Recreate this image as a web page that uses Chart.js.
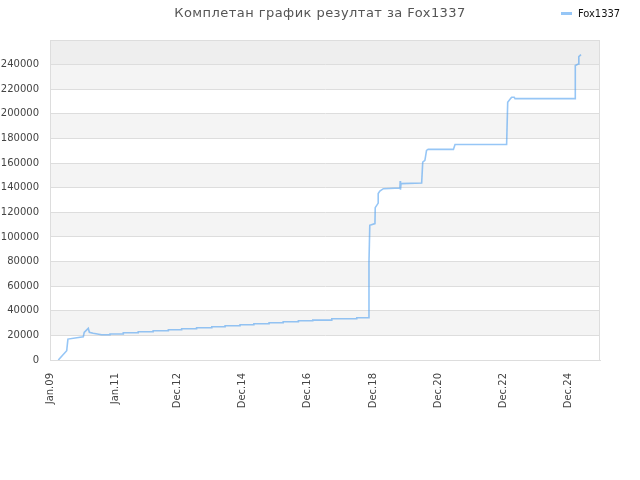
<!DOCTYPE html>
<html>
<head>
<meta charset="utf-8">
<script src="https://cdn.jsdelivr.net/npm/chart.js@4.4.1/dist/chart.umd.min.js"></script>
<style>
  html, body { margin: 0; padding: 0; background: #fff; }
  #wrap { width: 640px; height: 480px; }
</style>
</head>
<body>
<div id="wrap"><canvas id="scoreChart" width="640" height="480"></canvas></div>
<script>
// months counted from Jan 2009 (0 = Jan.09)
const months = [3.06, 6.15, 6.6, 12.27, 12.6, 14.1, 14.5, 15.9, 19.0, 22.1, 22.1, 27.0, 27.0,
  32.5, 32.5, 38.0, 38.0, 43.6, 43.6, 48.5, 48.5, 54.0, 54.0, 59.6, 59.6, 64.5, 64.5,
  70.0, 70.0, 75.1, 75.1, 80.7, 80.7, 85.9, 85.9, 91.5, 91.5, 96.8, 96.8, 103.8, 103.8,
  113.0, 113.0, 117.2, 117.5, 117.8, 119.7, 119.8, 120.9, 120.9, 121.5, 122.8, 128.9,
  129.0, 129.1, 129.3, 136.9, 137.3, 138.1, 138.7, 139.3, 148.6, 149.2, 168.2, 168.6,
  169.8, 170.1, 171.0, 171.3, 193.4, 193.5, 194.6, 194.8, 195.6];
const scores = [0, 7500, 17000, 18900, 22500, 25700, 22500, 21700, 20500, 20500, 21100, 21100, 22100,
  22100, 22950, 22950, 23760, 23760, 24570, 24570, 25380, 25380, 26190, 26190, 27000, 27000, 27810,
  27810, 28620, 28620, 29430, 29430, 30240, 30240, 31050, 31050, 31860, 31860, 32430, 32430, 33490,
  33490, 34300, 34300, 79700, 109500, 110800, 123800, 127500, 135200, 137300, 139200, 139700,
  145400, 138400, 143300, 143800, 160800, 162200, 170300, 171100, 171100, 175100, 175100, 209400,
  212800, 213500, 213500, 212400, 212400, 239200, 240500, 246500, 248100];

const tickMonths = [0, 24, 47, 71, 95, 119, 143, 167, 191];
const tickLabels = ['Jan.09', 'Jan.11', 'Dec.12', 'Dec.14', 'Dec.16', 'Dec.18', 'Dec.20', 'Dec.22', 'Dec.24'];

const playerName = 'Fox1337';
const chartTitle = 'Комплетан график резултат за ' + playerName;
const lineColor = 'rgba(80,160,240,0.6)';

const points = months.map((m, i) => ({x: m, y: scores[i]}));

// grey bands behind the grid + frame round the plot area
const bandsPlugin = {
  id: 'bands',
  beforeDraw(chart) {
    const {ctx, chartArea: a, scales: {y}} = chart;
    ctx.save();
    for (let v = 20000; v < 260000; v += 40000) {
      const top = y.getPixelForValue(Math.min(v + 20000, 260000));
      const bot = y.getPixelForValue(v);
      ctx.fillStyle = '#f4f4f4';
      ctx.fillRect(a.left, top, a.right - a.left, bot - top);
    }
    const t = y.getPixelForValue(260000), b = y.getPixelForValue(240000);
    ctx.fillStyle = '#eeeeee';
    ctx.fillRect(a.left, t, a.right - a.left, b - t);
    ctx.strokeStyle = '#dddddd';
    ctx.lineWidth = 1;
    ctx.strokeRect(a.left + 0.5, a.top + 0.5, a.right - a.left - 1, a.bottom - a.top);
    ctx.restore();
  }
};

// title and legend share one row at the top
const headerPlugin = {
  id: 'header',
  afterDraw(chart) {
    const ctx = chart.ctx;
    ctx.save();
    ctx.font = '13px "DejaVu Sans"';
    if ('letterSpacing' in ctx) ctx.letterSpacing = '0.45px';
    ctx.fillStyle = '#555555';
    ctx.textAlign = 'center';
    ctx.textBaseline = 'alphabetic';
    ctx.fillText(chartTitle, 320, 17);
    if ('letterSpacing' in ctx) ctx.letterSpacing = '0px';
    ctx.strokeStyle = lineColor;
    ctx.lineWidth = 3;
    ctx.beginPath();
    ctx.moveTo(561, 13.5);
    ctx.lineTo(572, 13.5);
    ctx.stroke();
    ctx.font = '11px "DejaVu Sans Condensed"';
    ctx.fillStyle = '#111111';
    ctx.textAlign = 'left';
    ctx.fillText(playerName, 578, 17);
    ctx.restore();
  }
};

var ctx = document.getElementById('scoreChart').getContext('2d');
var myChart = new Chart(ctx, {
  type: 'line',
  data: {
    datasets: [{
      label: playerName,
      data: points,
      borderColor: lineColor,
      borderWidth: 1.6,
      pointRadius: 0,
      fill: false,
      tension: 0
    }]
  },
  options: {
    responsive: false,
    animation: false,
    layout: { padding: { top: 40, right: 40, left: 0, bottom: 0 } },
    plugins: {
      legend: { display: false },
      title: { display: false },
      tooltip: { enabled: false }
    },
    scales: {
      x: {
        type: 'linear',
        min: 0,
        max: 202.6,
        afterFit(scale) { scale.height = 120; },
        afterBuildTicks(scale) { scale.ticks = tickMonths.map(v => ({value: v})); },
        grid: { display: false },
        border: { display: true, color: '#dddddd' },
        ticks: {
          autoSkip: false,
          minRotation: 90,
          maxRotation: 90,
          padding: 5,
          color: '#444444',
          font: { family: 'DejaVu Sans', size: 10 },
          callback: (v, i) => tickLabels[i]
        }
      },
      y: {
        min: 0,
        max: 260000,
        afterFit(scale) { scale.width = 50; },
        grid: { color: '#dddddd', drawTicks: false },
        border: { display: true, color: '#dddddd' },
        ticks: {
          stepSize: 20000,
          padding: 11,
          color: '#444444',
          font: { family: 'DejaVu Sans', size: 10 },
          callback: v => (v >= 260000 ? '' : v)
        }
      }
    }
  },
  plugins: [bandsPlugin, headerPlugin]
});
</script>
</body>
</html>
